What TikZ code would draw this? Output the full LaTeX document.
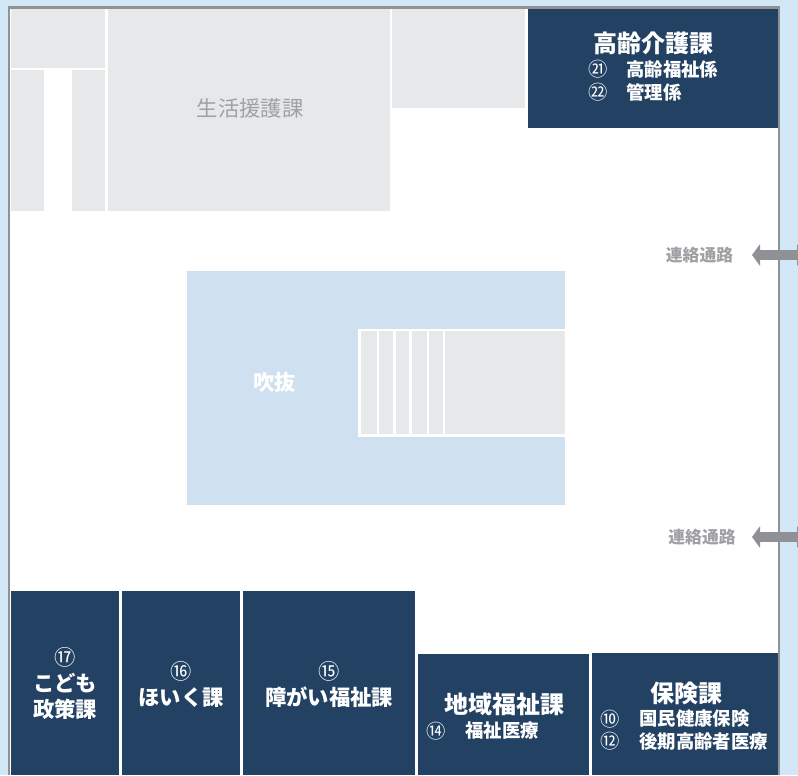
\documentclass[tikz,border=0pt]{standalone}
\usepackage{fontspec}
\setmainfont{Noto Sans CJK JP}
\usetikzlibrary{arrows.meta}
\definecolor{skyback}{HTML}{D3E8F6}
\definecolor{wallgray}{HTML}{8F9194}
\definecolor{roomgray}{HTML}{E7E8EA}
\definecolor{roomnavy}{HTML}{234163}
\definecolor{voidblue}{HTML}{CFE0F0}
\definecolor{textgray}{HTML}{A0A1A4}
\tikzset{
	grayroom/.style={fill=roomgray},
	navyroom/.style={fill=roomnavy},
	title/.style={text=white, font=\bfseries\fontsize{18}{22}\selectfont, inner sep=0pt, align=center},
	midtitle/.style={title, font=\bfseries\fontsize{16}{19.5}\selectfont},
	sub/.style={text=white, font=\bfseries\fontsize{13.8}{16}\selectfont, inner sep=0pt, anchor=west},
	num/.style={sub, font=\fontsize{14.5}{16}\selectfont},
	passage/.style={text=textgray, font=\bfseries\fontsize{12.6}{15}\selectfont, inner sep=0pt},
	passagearrow/.style={draw=wallgray, line width=6.8pt, {Triangle[length=6pt,width=16pt]}-{Triangle[length=6pt,width=16pt]}}
}
\begin{document}
\begin{tikzpicture}[x=0.75pt, y=-0.75pt]
	\useasboundingbox (0,0) rectangle (798,775);
	\fill[skyback] (0,0) rectangle (798,775);
	\fill[white] (9,7) rectangle (779,775);
	\draw[wallgray, line width=2pt] (9,775) -- (9,7.5) -- (779,7.5) -- (779,775);

	% rooms on the upper side
	\fill[grayroom] (10.5,8.5) rectangle (105,67.5);
	\fill[grayroom] (10.5,70) rectangle (44,211);
	\fill[grayroom] (72,70) rectangle (105,211);
	\fill[grayroom] (108,8.5) rectangle (390,211);
	\fill[grayroom] (392,8.5) rectangle (525,108);
	\fill[navyroom] (528,8.5) rectangle (778,128);

	% void and stairs
	\fill[voidblue] (187,271) rectangle (565,505);
	\fill[white] (358,329) rectangle (565,437);
	\foreach \xa/\xb in {361/377, 379/393, 395.5/409, 412/427, 429/443, 445/565}
		\fill[grayroom] (\xa,331) rectangle (\xb,434);

	% rooms on the lower side
	\fill[navyroom] (10.5,591) rectangle (119,775);
	\fill[navyroom] (122,591) rectangle (240,775);
	\fill[navyroom] (243,591) rectangle (415,775);
	\fill[navyroom] (418,654) rectangle (589,775);
	\fill[navyroom] (592,653) rectangle (778,775);

	\node[text=textgray, font=\fontsize{16}{18}\selectfont, inner sep=0pt] (seikatsu) at (250,108) {生活援護課};
	\node[text=white, font=\bfseries\fontsize{16}{18}\selectfont, inner sep=0pt] (fukinuke) at (274.5,382) {吹抜};

	\node[title] (korei) at (653.5,43) {高齢介護課};
	\node[num] (n21) at (588.5,69.5) {㉑};
	\node[sub] (korei a) at (626,69.5) {高齢福祉係};
	\node[num] (n22) at (588.5,92) {㉒};
	\node[sub] (korei b) at (626,92) {管理係};

	\node[midtitle] (kodomo) at (65,684) {{\mdseries ⑰}\\こども\\政策課};
	\node[midtitle] (hoiku) at (181,684) {{\mdseries ⑯}\\ほいく課};
	\node[midtitle] (shogai) at (329,684) {{\mdseries ⑮}\\障がい福祉課};

	\node[title] (chiiki) at (504,704) {地域福祉課};
	\node[num] (n14) at (426.5,731) {⑭};
	\node[sub] (chiiki a) at (465,731) {福祉医療};

	\node[title] (hoken) at (686,693) {保険課};
	\node[num] (n10) at (600.5,719) {⑩};
	\node[sub] (hoken a) at (639,719) {国民健康保険};
	\node[num] (n12) at (600.5,741.5) {⑫};
	\node[sub] (hoken b) at (639,741.5) {後期高齢者医療};

	% passages
	\node[passage] (passage a) at (699.5,255) {連絡通路};
	\node[passage] (passage b) at (702,537) {連絡通路};
	\coordinate (edge a) at (805,255);
	\coordinate (edge b) at (805,537);
	\coordinate (tip a) at (752,255);
	\coordinate (tip b) at (752,537);
	\draw[passagearrow] (edge a) -- (tip a);
	\draw[passagearrow] (edge b) -- (tip b);
\end{tikzpicture}
\end{document}
